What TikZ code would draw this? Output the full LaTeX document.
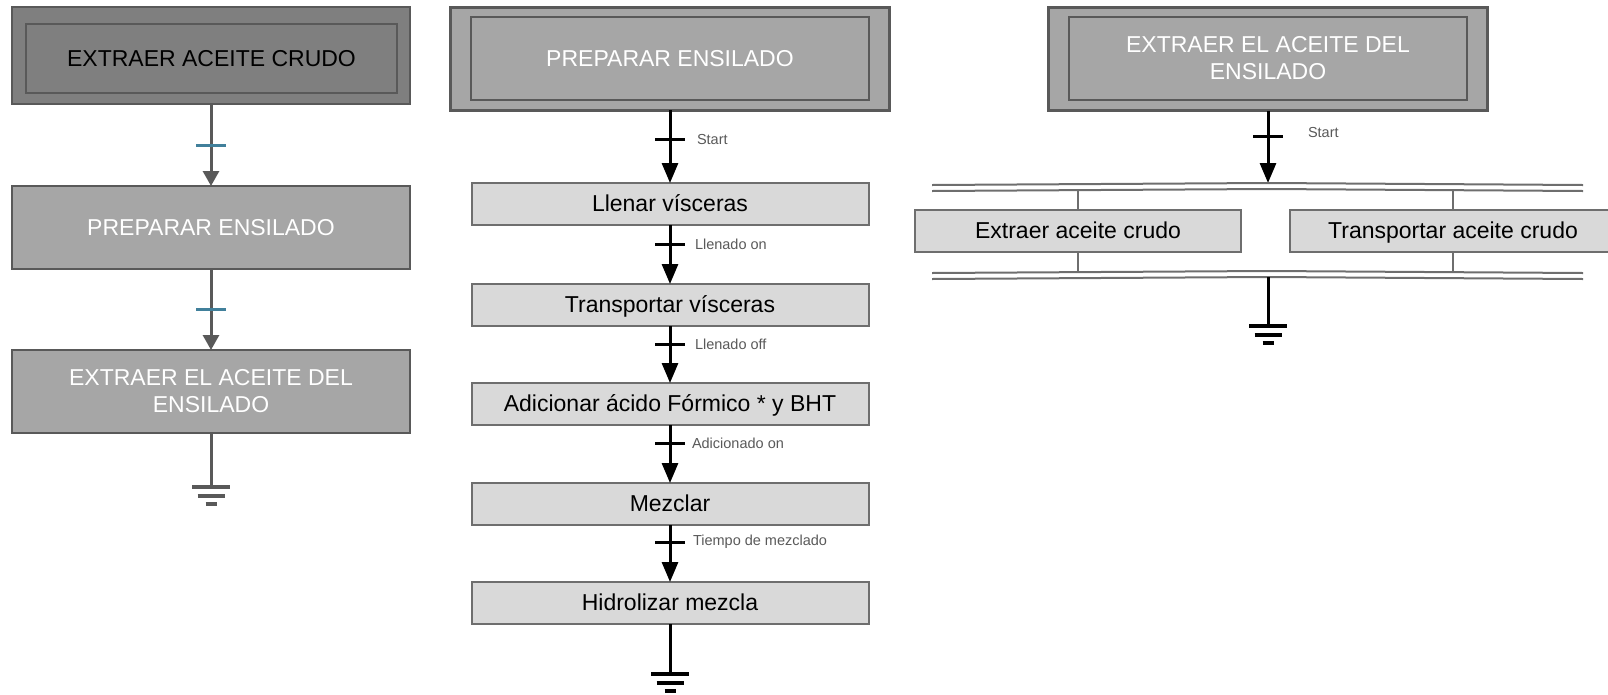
\documentclass[tikz,border=0pt]{standalone}
\usepackage{fontspec}
\setmainfont{Liberation Sans}
\usetikzlibrary{arrows.meta,positioning}

\definecolor{grisoscuro}{HTML}{7F7F7F}
\definecolor{grismedio}{HTML}{A6A6A6}
\definecolor{grisclaro}{HTML}{D9D9D9}
\definecolor{borde}{HTML}{595959}
\definecolor{bordepaso}{HTML}{6E6E6E}
\definecolor{azul}{HTML}{41809B}

\begin{document}
\begin{tikzpicture}[
  x=1pt, y=-1pt,
  every node/.style = {inner sep=0pt, outer sep=0pt, align=center},
  grande/.style = {font=\fontsize{23}{27}\selectfont},
  macro/.style = {draw=borde, line width=3pt, fill=grismedio,
    minimum width=439pt, minimum height=103pt},
  interior/.style = {grande, draw=borde, line width=2pt, fill=grismedio,
    text=white, minimum width=398pt, minimum height=83pt},
  paso/.style = {grande, draw=bordepaso, line width=2pt, fill=grisclaro,
    text height=17pt, text depth=3pt,
    minimum width=397pt, minimum height=42pt},
  flechagris/.style = {draw=borde, line width=3pt,
    -{Triangle[length=15pt,width=16pt]}},
  flecha/.style = {line width=3pt, -{Triangle[length=20pt,width=16pt]}},
  marca/.style = {fill, minimum width=30pt, minimum height=3pt},
  etiqueta/.style = {text=borde, font=\fontsize{14.5}{16}\selectfont},
  doble/.style = {draw=bordepaso, line width=2pt},
  rama/.style = {draw=bordepaso, line width=1.5pt},
  tierra/.pic = {\draw[line width=4pt, pic actions]
    (-19,0) -- (19,0) (-13.5,8.5) -- (13.5,8.5) (-5.5,17) -- (5.5,17);}
]
\useasboundingbox (0,0) rectangle (1608,694);

% columna izquierda
\node[macro, fill=grisoscuro, line width=2pt, minimum width=398pt,
  minimum height=97pt] (crudoFuera) at (211,55.5) {};
\node[interior, fill=grisoscuro, text=black, minimum width=371pt,
  minimum height=69pt] (crudo) at (211.5,58.5) {EXTRAER ACEITE CRUDO};
\node[interior] (prepA) at (211,227.5) {PREPARAR ENSILADO};
\node[interior] (extrA) at (211,391.5) {EXTRAER EL ACEITE DEL\\ENSILADO};
\coordinate (finA) at (211,487);

\draw[flechagris] (crudoFuera) -- node[marca, fill=azul, pos=.5] {} (prepA);
\draw[flechagris] (prepA) -- node[marca, fill=azul, pos=.5] {} (extrA);
\draw[draw=borde, line width=3pt] (extrA) -- (finA);
\pic[draw=borde] at (finA) {tierra};

% columna central
\node[macro] (prepFuera) at (670,58.5) {};
\node[interior] (prepB) at (670,58.5) {PREPARAR ENSILADO};
\node[paso] (llenar) at (670,204) {Llenar vísceras};
\node[paso, below=59pt of llenar] (transportar) {Transportar vísceras};
\node[paso, below=57pt of transportar] (adicionar)
  {Adicionar ácido Fórmico * y BHT};
\node[paso, below=58pt of adicionar] (mezclar) {Mezclar};
\node[paso, below=57pt of mezclar] (hidrolizar) {Hidrolizar mezcla};
\coordinate (finB) at (670,674);

\draw[flecha] (prepFuera) -- node[marca, pos=.4] (t1) {} (llenar);
\draw[flecha] (llenar) -- node[marca, pos=.33] (t2) {} (transportar);
\draw[flecha] (transportar) -- node[marca, pos=.32] (t3) {} (adicionar);
\draw[flecha] (adicionar) -- node[marca, pos=.32] (t4) {} (mezclar);
\draw[flecha] (mezclar) -- node[marca, pos=.3] (t5) {} (hidrolizar);
\node[etiqueta, right=12pt of t1] {Start};
\node[etiqueta, right=10pt of t2] {Llenado on};
\node[etiqueta, right=10pt of t3] {Llenado off};
\node[etiqueta, right=7pt of t4] {Adicionado on};
\node[etiqueta, right=8pt of t5] {Tiempo de mezclado};
\draw[line width=3pt] (hidrolizar) -- (finB);
\pic[draw=black] at (finB) {tierra};

% columna derecha
\node[macro] (extrFuera) at (1268,59) {};
\node[interior] (extrB) at (1268,58) {EXTRAER EL ACEITE DEL\\ENSILADO};
\node[paso, minimum width=326pt] (aceite) at (1078,231) {Extraer aceite crudo};
\node[paso, minimum width=326pt, right=49pt of aceite] (transpAceite)
  {Transportar aceite crudo};
\coordinate (divA) at (1268,183);
\coordinate (divB) at (1268,277);
\coordinate (barraA) at (0,190);
\coordinate (barraB) at (0,273);
\coordinate (finC) at (1268,326);

\draw[flecha] (extrFuera) -- node[marca, pos=.36] (t6) {} (divA);
\node[etiqueta, right=25pt of t6, yshift=4pt] {Start};
\draw[doble] (932,185) -- (divA) -- (1583,185);
\draw[doble] (932,191) -- (1268,189) -- (1583,191);
\draw[rama] (aceite) -- (aceite |- barraA);
\draw[rama] (transpAceite) -- (transpAceite |- barraA);
\draw[rama] (aceite) -- (aceite |- barraB);
\draw[rama] (transpAceite) -- (transpAceite |- barraB);
\draw[doble] (932,273) -- (1268,271) -- (1583,273);
\draw[doble] (932,279) -- (divB) -- (1583,279);
\draw[line width=3pt] (divB) -- (finC);
\pic[draw=black] at (finC) {tierra};
\end{tikzpicture}
\end{document}
